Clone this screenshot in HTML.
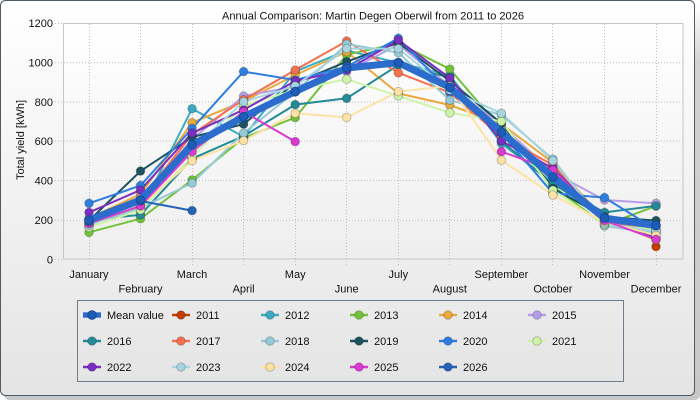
<!DOCTYPE html>
<html>
<head>
<meta charset="utf-8">
<style>
html,body{margin:0;padding:0;background:#ffffff;}
svg{display:block;}
text{font-family:"Liberation Sans",Arial,sans-serif;font-size:11px;fill:#111;}
</style>
</head>
<body>
<svg width="700" height="400" viewBox="0 0 700 400" xmlns="http://www.w3.org/2000/svg">
<defs>
<linearGradient id="panel" x1="0" y1="0" x2="0" y2="1">
<stop offset="0" stop-color="#ffffff"/>
<stop offset="1" stop-color="#e4e4e4"/>
</linearGradient>
<linearGradient id="plot" x1="0" y1="0" x2="0" y2="1">
<stop offset="0" stop-color="#ffffff"/>
<stop offset="1" stop-color="#eeeeee"/>
</linearGradient>
<linearGradient id="shadowv" x1="0" y1="0" x2="0" y2="1">
<stop offset="0" stop-color="#ffffff"/>
<stop offset="0.15" stop-color="#d2d2d2"/>
<stop offset="1" stop-color="#c8c8c8"/>
</linearGradient>
</defs>

<!-- shadow + frame -->
<rect x="4" y="4" width="696" height="396" rx="5" fill="url(#shadowv)"/>
<rect x="0.5" y="0.5" width="694" height="395" rx="5" fill="url(#panel)" stroke="#4d5a67" stroke-width="1"/>

<!-- title -->
<text x="373" y="19.5" text-anchor="middle" textLength="302" lengthAdjust="spacingAndGlyphs">Annual Comparison: Martin Degen Oberwil from 2011 to 2026</text>

<!-- plot area -->
<rect x="63.5" y="23.5" width="619.5" height="235.5" fill="url(#plot)"/>

<!-- grid -->
<g stroke="#bdbdbd" stroke-width="1" stroke-dasharray="1,2" fill="none">
<line x1="55" y1="220.2" x2="683" y2="220.2"/>
<line x1="55" y1="180.5" x2="683" y2="180.5"/>
<line x1="55" y1="141.0" x2="683" y2="141.0"/>
<line x1="55" y1="102.0" x2="683" y2="102.0"/>
<line x1="55" y1="62.7" x2="683" y2="62.7"/>
<line x1="55" y1="23.5" x2="63" y2="23.5"/>
<line x1="55" y1="259.5" x2="63" y2="259.5"/>
<line x1="89.5" y1="24" x2="89.5" y2="267"/>
<line x1="140.5" y1="24" x2="140.5" y2="267"/>
<line x1="192.5" y1="24" x2="192.5" y2="267"/>
<line x1="243.5" y1="24" x2="243.5" y2="267"/>
<line x1="295.5" y1="24" x2="295.5" y2="267"/>
<line x1="346.5" y1="24" x2="346.5" y2="267"/>
<line x1="398.5" y1="24" x2="398.5" y2="267"/>
<line x1="449.5" y1="24" x2="449.5" y2="267"/>
<line x1="501.5" y1="24" x2="501.5" y2="267"/>
<line x1="552.5" y1="24" x2="552.5" y2="267"/>
<line x1="604.5" y1="24" x2="604.5" y2="267"/>
<line x1="656.5" y1="24" x2="656.5" y2="267"/>
</g>
<rect x="63.5" y="23.5" width="619.5" height="235.5" fill="none" stroke="#c6c6c6" stroke-width="1"/>

<!-- y tick labels -->
<g text-anchor="end">
<text x="53" y="27">1200</text>
<text x="53" y="66.5">1000</text>
<text x="53" y="106">800</text>
<text x="53" y="145">600</text>
<text x="53" y="184.5">400</text>
<text x="53" y="224">200</text>
<text x="53" y="263.5">0</text>
</g>
<text transform="translate(24,140) rotate(-90)" text-anchor="middle">Total yield [kWh]</text>

<!-- x labels -->
<g text-anchor="middle">
<text x="89" y="278">January</text>
<text x="140.5" y="292.5">February</text>
<text x="192" y="278">March</text>
<text x="243.6" y="292.5">April</text>
<text x="295.2" y="278">May</text>
<text x="346.7" y="292.5">June</text>
<text x="398.3" y="278">July</text>
<text x="449.8" y="292.5">August</text>
<text x="501.4" y="278">September</text>
<text x="552.9" y="292.5">October</text>
<text x="604.5" y="278">November</text>
<text x="656" y="292.5">December</text>
</g>

<!-- series lines -->
<g fill="none" stroke-width="2" stroke-linejoin="round">
<polyline stroke="#3eaac2" points="89,219.7 140.5,210.8 192.1,108.7 243.6,136.7 295.2,71.6 346.7,50.5 398.3,62.7 449.8,75.1 501.4,143.4 552.9,182.7 604.5,220.6 656,233.2"/>
<polyline stroke="#72c23a" points="89,232.3 140.5,218.7 192.1,179.9 243.6,138 295.2,117.6 346.7,54.7 398.3,43.3 449.8,69 501.4,129.2 552.9,186.2 604.5,225 656,206.1"/>
<polyline stroke="#eaa93e" points="89,218.1 140.5,194.3 192.1,122.7 243.6,101.3 295.2,75.1 346.7,51.7 398.3,93.4 449.8,105 501.4,124.1 552.9,162.6 604.5,219.7 656,239.9"/>
<polyline stroke="#b59ee8" points="89,226.5 140.5,198 192.1,139.4 243.6,96 295.2,86.7 346.7,71.6 398.3,44.6 449.8,85.9 501.4,125.3 552.9,172.5 604.5,200 656,203.3"/>
<polyline stroke="#238a96" points="89,219.7 140.5,214.9 192.1,158.7 243.6,136.1 295.2,104.6 346.7,98.3 398.3,65.1 449.8,77.3 501.4,141 552.9,184.3 604.5,212.4 656,205.9"/>
<polyline stroke="#f5714e" points="89,222.6 140.5,200 192.1,134.3 243.6,99.7 295.2,70 346.7,41.1 398.3,72.8 449.8,92.6 501.4,136.7 552.9,165 604.5,220.1 656,230.1"/>
<polyline stroke="#95cad6" points="89,224.6 140.5,207.9 192.1,183.1 243.6,133.1 295.2,91.8 346.7,44 398.3,52.7 449.8,100.1 501.4,115 552.9,159.1 604.5,226 656,233.4"/>
<polyline stroke="#1d5260" points="89,220.6 140.5,171.1 192.1,137.1 243.6,124.1 295.2,83 346.7,61.7 398.3,42.7 449.8,81 501.4,123.3 552.9,188.4 604.5,216.7 656,220.6"/>
<polyline stroke="#2d7ee0" points="89,203.3 140.5,185.6 192.1,128.4 243.6,71.6 295.2,80 346.7,66.7 398.3,38.3 449.8,91.6 501.4,133.1 552.9,193.3 604.5,197.6 656,229.5"/>
<polyline stroke="#cdf5a8" points="89,227.5 140.5,209.8 192.1,156.7 243.6,105.6 295.2,89.9 346.7,79.2 398.3,96 449.8,112.7 501.4,121.3 552.9,190.2 604.5,224.6 656,229.5"/>
<polyline stroke="#7a2fc0" points="89,212.4 140.5,190 192.1,133.1 243.6,109.9 295.2,81 346.7,70 398.3,40.1 449.8,78.1 501.4,141 552.9,168.3 604.5,219.7 656,238"/>
<polyline stroke="#a6d5df" points="89,225.6 140.5,203.9 192.1,148.9 243.6,101.7 295.2,85.9 346.7,48.6 398.3,48.6 449.8,89.9 501.4,113.3 552.9,160.7 604.5,223.6 656,231.5"/>
<polyline stroke="#fde2a6" points="89,223.6 140.5,205.9 192.1,160.7 243.6,140.6 295.2,113.3 346.7,117.4 398.3,91.6 449.8,85.9 501.4,160.1 552.9,195.1 604.5,221.6 656,235.4"/>
<polyline stroke="#d93bd0" points="89,223.6 140.5,205.9 192.1,151.6 243.6,111.7 295.2,141.6"/>
<polyline stroke="#d93bd0" points="501.4,151.6 552.9,170.1 604.5,220.6 656,239.3"/>
<polyline stroke="#2562b8" points="89,221.6 140.5,201 192.1,210.6"/>
</g>

<!-- series markers -->
<g stroke="rgba(0,0,0,0.22)" stroke-width="1">
<circle cx="656" cy="246.6" r="4.3" fill="#c43c00"/>
<g fill="#3eaac2"><circle cx="89" cy="219.7" r="4.3"/><circle cx="140.5" cy="210.8" r="4.3"/><circle cx="192.1" cy="108.7" r="4.3"/><circle cx="243.6" cy="136.7" r="4.3"/><circle cx="295.2" cy="71.6" r="4.3"/><circle cx="346.7" cy="50.5" r="4.3"/><circle cx="398.3" cy="62.7" r="4.3"/><circle cx="449.8" cy="75.1" r="4.3"/><circle cx="501.4" cy="143.4" r="4.3"/><circle cx="552.9" cy="182.7" r="4.3"/><circle cx="604.5" cy="220.6" r="4.3"/><circle cx="656" cy="233.2" r="4.3"/></g>
<g fill="#72c23a"><circle cx="89" cy="232.3" r="4.3"/><circle cx="140.5" cy="218.7" r="4.3"/><circle cx="192.1" cy="179.9" r="4.3"/><circle cx="243.6" cy="138" r="4.3"/><circle cx="295.2" cy="117.6" r="4.3"/><circle cx="346.7" cy="54.7" r="4.3"/><circle cx="398.3" cy="43.3" r="4.3"/><circle cx="449.8" cy="69" r="4.3"/><circle cx="501.4" cy="129.2" r="4.3"/><circle cx="552.9" cy="186.2" r="4.3"/><circle cx="604.5" cy="225" r="4.3"/><circle cx="656" cy="206.1" r="4.3"/></g>
<g fill="#eaa93e"><circle cx="89" cy="218.1" r="4.3"/><circle cx="140.5" cy="194.3" r="4.3"/><circle cx="192.1" cy="122.7" r="4.3"/><circle cx="243.6" cy="101.3" r="4.3"/><circle cx="295.2" cy="75.1" r="4.3"/><circle cx="346.7" cy="51.7" r="4.3"/><circle cx="398.3" cy="93.4" r="4.3"/><circle cx="449.8" cy="105" r="4.3"/><circle cx="501.4" cy="124.1" r="4.3"/><circle cx="552.9" cy="162.6" r="4.3"/><circle cx="604.5" cy="219.7" r="4.3"/><circle cx="656" cy="239.9" r="4.3"/></g>
<g fill="#b59ee8"><circle cx="89" cy="226.5" r="4.3"/><circle cx="140.5" cy="198" r="4.3"/><circle cx="192.1" cy="139.4" r="4.3"/><circle cx="243.6" cy="96" r="4.3"/><circle cx="295.2" cy="86.7" r="4.3"/><circle cx="346.7" cy="71.6" r="4.3"/><circle cx="398.3" cy="44.6" r="4.3"/><circle cx="449.8" cy="85.9" r="4.3"/><circle cx="501.4" cy="125.3" r="4.3"/><circle cx="552.9" cy="172.5" r="4.3"/><circle cx="604.5" cy="200" r="4.3"/><circle cx="656" cy="203.3" r="4.3"/></g>
<g fill="#238a96"><circle cx="89" cy="219.7" r="4.3"/><circle cx="140.5" cy="214.9" r="4.3"/><circle cx="192.1" cy="158.7" r="4.3"/><circle cx="243.6" cy="136.1" r="4.3"/><circle cx="295.2" cy="104.6" r="4.3"/><circle cx="346.7" cy="98.3" r="4.3"/><circle cx="398.3" cy="65.1" r="4.3"/><circle cx="449.8" cy="77.3" r="4.3"/><circle cx="501.4" cy="141" r="4.3"/><circle cx="552.9" cy="184.3" r="4.3"/><circle cx="604.5" cy="212.4" r="4.3"/><circle cx="656" cy="205.9" r="4.3"/></g>
<g fill="#f5714e"><circle cx="89" cy="222.6" r="4.3"/><circle cx="140.5" cy="200" r="4.3"/><circle cx="192.1" cy="134.3" r="4.3"/><circle cx="243.6" cy="99.7" r="4.3"/><circle cx="295.2" cy="70" r="4.3"/><circle cx="346.7" cy="41.1" r="4.3"/><circle cx="398.3" cy="72.8" r="4.3"/><circle cx="449.8" cy="92.6" r="4.3"/><circle cx="501.4" cy="136.7" r="4.3"/><circle cx="552.9" cy="165" r="4.3"/><circle cx="604.5" cy="220.1" r="4.3"/><circle cx="656" cy="230.1" r="4.3"/></g>
<g fill="#95cad6"><circle cx="89" cy="224.6" r="4.3"/><circle cx="140.5" cy="207.9" r="4.3"/><circle cx="192.1" cy="183.1" r="4.3"/><circle cx="243.6" cy="133.1" r="4.3"/><circle cx="295.2" cy="91.8" r="4.3"/><circle cx="346.7" cy="44" r="4.3"/><circle cx="398.3" cy="52.7" r="4.3"/><circle cx="449.8" cy="100.1" r="4.3"/><circle cx="501.4" cy="115" r="4.3"/><circle cx="552.9" cy="159.1" r="4.3"/><circle cx="604.5" cy="226" r="4.3"/><circle cx="656" cy="233.4" r="4.3"/></g>
<g fill="#1d5260"><circle cx="89" cy="220.6" r="4.3"/><circle cx="140.5" cy="171.1" r="4.3"/><circle cx="192.1" cy="137.1" r="4.3"/><circle cx="243.6" cy="124.1" r="4.3"/><circle cx="295.2" cy="83" r="4.3"/><circle cx="346.7" cy="61.7" r="4.3"/><circle cx="398.3" cy="42.7" r="4.3"/><circle cx="449.8" cy="81" r="4.3"/><circle cx="501.4" cy="123.3" r="4.3"/><circle cx="552.9" cy="188.4" r="4.3"/><circle cx="604.5" cy="216.7" r="4.3"/><circle cx="656" cy="220.6" r="4.3"/></g>
<g fill="#2d7ee0"><circle cx="89" cy="203.3" r="4.3"/><circle cx="140.5" cy="185.6" r="4.3"/><circle cx="192.1" cy="128.4" r="4.3"/><circle cx="243.6" cy="71.6" r="4.3"/><circle cx="295.2" cy="80" r="4.3"/><circle cx="346.7" cy="66.7" r="4.3"/><circle cx="398.3" cy="38.3" r="4.3"/><circle cx="449.8" cy="91.6" r="4.3"/><circle cx="501.4" cy="133.1" r="4.3"/><circle cx="552.9" cy="193.3" r="4.3"/><circle cx="604.5" cy="197.6" r="4.3"/><circle cx="656" cy="229.5" r="4.3"/></g>
<g fill="#cdf5a8"><circle cx="89" cy="227.5" r="4.3"/><circle cx="140.5" cy="209.8" r="4.3"/><circle cx="192.1" cy="156.7" r="4.3"/><circle cx="243.6" cy="105.6" r="4.3"/><circle cx="295.2" cy="89.9" r="4.3"/><circle cx="346.7" cy="79.2" r="4.3"/><circle cx="398.3" cy="96" r="4.3"/><circle cx="449.8" cy="112.7" r="4.3"/><circle cx="501.4" cy="121.3" r="4.3"/><circle cx="552.9" cy="190.2" r="4.3"/><circle cx="604.5" cy="224.6" r="4.3"/><circle cx="656" cy="229.5" r="4.3"/></g>
<g fill="#7a2fc0"><circle cx="89" cy="212.4" r="4.3"/><circle cx="140.5" cy="190" r="4.3"/><circle cx="192.1" cy="133.1" r="4.3"/><circle cx="243.6" cy="109.9" r="4.3"/><circle cx="295.2" cy="81" r="4.3"/><circle cx="346.7" cy="70" r="4.3"/><circle cx="398.3" cy="40.1" r="4.3"/><circle cx="449.8" cy="78.1" r="4.3"/><circle cx="501.4" cy="141" r="4.3"/><circle cx="552.9" cy="168.3" r="4.3"/><circle cx="604.5" cy="219.7" r="4.3"/><circle cx="656" cy="238" r="4.3"/></g>
<g fill="#a6d5df"><circle cx="89" cy="225.6" r="4.3"/><circle cx="140.5" cy="203.9" r="4.3"/><circle cx="192.1" cy="148.9" r="4.3"/><circle cx="243.6" cy="101.7" r="4.3"/><circle cx="295.2" cy="85.9" r="4.3"/><circle cx="346.7" cy="48.6" r="4.3"/><circle cx="398.3" cy="48.6" r="4.3"/><circle cx="449.8" cy="89.9" r="4.3"/><circle cx="501.4" cy="113.3" r="4.3"/><circle cx="552.9" cy="160.7" r="4.3"/><circle cx="604.5" cy="223.6" r="4.3"/><circle cx="656" cy="231.5" r="4.3"/></g>
<g fill="#fde2a6"><circle cx="89" cy="223.6" r="4.3"/><circle cx="140.5" cy="205.9" r="4.3"/><circle cx="192.1" cy="160.7" r="4.3"/><circle cx="243.6" cy="140.6" r="4.3"/><circle cx="295.2" cy="113.3" r="4.3"/><circle cx="346.7" cy="117.4" r="4.3"/><circle cx="398.3" cy="91.6" r="4.3"/><circle cx="449.8" cy="85.9" r="4.3"/><circle cx="501.4" cy="160.1" r="4.3"/><circle cx="552.9" cy="195.1" r="4.3"/><circle cx="604.5" cy="221.6" r="4.3"/><circle cx="656" cy="235.4" r="4.3"/></g>
<g fill="#d93bd0"><circle cx="89" cy="223.6" r="4.3"/><circle cx="140.5" cy="205.9" r="4.3"/><circle cx="192.1" cy="151.6" r="4.3"/><circle cx="243.6" cy="111.7" r="4.3"/><circle cx="295.2" cy="141.6" r="4.3"/><circle cx="501.4" cy="151.6" r="4.3"/><circle cx="552.9" cy="170.1" r="4.3"/><circle cx="604.5" cy="220.6" r="4.3"/><circle cx="656" cy="239.3" r="4.3"/></g>
<g fill="#2562b8"><circle cx="89" cy="221.6" r="4.3"/><circle cx="140.5" cy="201" r="4.3"/><circle cx="192.1" cy="210.6" r="4.3"/></g>
</g>

<!-- mean -->
<polyline fill="none" stroke="#2b6ccc" stroke-width="7" stroke-linejoin="round" stroke-linecap="round" points="89,220.1 140.5,200 192.1,144.9 243.6,116.8 295.2,91.6 346.7,68 398.3,62.7 449.8,87.3 501.4,132.1 552.9,177 604.5,218.1 656,225.6"/>
<g fill="#1f5cb8" stroke="#174a96" stroke-width="1">
<circle cx="89" cy="220.1" r="4.3"/><circle cx="140.5" cy="200" r="4.3"/><circle cx="192.1" cy="144.9" r="4.3"/><circle cx="243.6" cy="116.8" r="4.3"/><circle cx="295.2" cy="91.6" r="4.3"/><circle cx="346.7" cy="68" r="4.3"/><circle cx="398.3" cy="62.7" r="4.3"/><circle cx="449.8" cy="87.3" r="4.3"/><circle cx="501.4" cy="132.1" r="4.3"/><circle cx="552.9" cy="177" r="4.3"/><circle cx="604.5" cy="218.1" r="4.3"/><circle cx="656" cy="225.6" r="4.3"/>
</g>

<!-- legend -->
<rect x="77.5" y="300.5" width="546" height="81" fill="none" stroke="#6f7c8a" stroke-width="1"/>
<g stroke-width="2.5">
<rect x="83" y="312.3" width="18" height="5.4" fill="#2b6ccc"/>
<circle cx="92" cy="315" r="4.3" fill="#1f5cb8" stroke="#174a96" stroke-width="1"/>
<line x1="172" y1="315" x2="190" y2="315" stroke="#c43c00"/><circle cx="181" cy="315" r="4.3" fill="#c43c00" stroke="rgba(0,0,0,0.22)" stroke-width="1"/>
<line x1="261" y1="315" x2="279" y2="315" stroke="#3eaac2"/><circle cx="270" cy="315" r="4.3" fill="#3eaac2" stroke="rgba(0,0,0,0.22)" stroke-width="1"/>
<line x1="350" y1="315" x2="368" y2="315" stroke="#72c23a"/><circle cx="359" cy="315" r="4.3" fill="#72c23a" stroke="rgba(0,0,0,0.22)" stroke-width="1"/>
<line x1="439" y1="315" x2="457" y2="315" stroke="#eaa93e"/><circle cx="448" cy="315" r="4.3" fill="#eaa93e" stroke="rgba(0,0,0,0.22)" stroke-width="1"/>
<line x1="528" y1="315" x2="546" y2="315" stroke="#b59ee8"/><circle cx="537" cy="315" r="4.3" fill="#b59ee8" stroke="rgba(0,0,0,0.22)" stroke-width="1"/>
<line x1="83" y1="341" x2="101" y2="341" stroke="#238a96"/><circle cx="92" cy="341" r="4.3" fill="#238a96" stroke="rgba(0,0,0,0.22)" stroke-width="1"/>
<line x1="172" y1="341" x2="190" y2="341" stroke="#f5714e"/><circle cx="181" cy="341" r="4.3" fill="#f5714e" stroke="rgba(0,0,0,0.22)" stroke-width="1"/>
<line x1="261" y1="341" x2="279" y2="341" stroke="#95cad6"/><circle cx="270" cy="341" r="4.3" fill="#95cad6" stroke="rgba(0,0,0,0.22)" stroke-width="1"/>
<line x1="350" y1="341" x2="368" y2="341" stroke="#1d5260"/><circle cx="359" cy="341" r="4.3" fill="#1d5260" stroke="rgba(0,0,0,0.22)" stroke-width="1"/>
<line x1="439" y1="341" x2="457" y2="341" stroke="#2d7ee0"/><circle cx="448" cy="341" r="4.3" fill="#2d7ee0" stroke="rgba(0,0,0,0.22)" stroke-width="1"/>
<line x1="528" y1="341" x2="546" y2="341" stroke="#cdf5a8"/><circle cx="537" cy="341" r="4.3" fill="#cdf5a8" stroke="rgba(0,0,0,0.22)" stroke-width="1"/>
<line x1="83" y1="367" x2="101" y2="367" stroke="#7a2fc0"/><circle cx="92" cy="367" r="4.3" fill="#7a2fc0" stroke="rgba(0,0,0,0.22)" stroke-width="1"/>
<line x1="172" y1="367" x2="190" y2="367" stroke="#a6d5df"/><circle cx="181" cy="367" r="4.3" fill="#a6d5df" stroke="rgba(0,0,0,0.22)" stroke-width="1"/>
<line x1="261" y1="367" x2="279" y2="367" stroke="#fde2a6"/><circle cx="270" cy="367" r="4.3" fill="#fde2a6" stroke="rgba(0,0,0,0.22)" stroke-width="1"/>
<line x1="350" y1="367" x2="368" y2="367" stroke="#d93bd0"/><circle cx="359" cy="367" r="4.3" fill="#d93bd0" stroke="rgba(0,0,0,0.22)" stroke-width="1"/>
<line x1="439" y1="367" x2="457" y2="367" stroke="#2562b8"/><circle cx="448" cy="367" r="4.3" fill="#2562b8" stroke="rgba(0,0,0,0.22)" stroke-width="1"/>
</g>
<g>
<text x="107" y="319">Mean value</text>
<text x="196" y="319">2011</text>
<text x="285" y="319">2012</text>
<text x="374" y="319">2013</text>
<text x="463" y="319">2014</text>
<text x="552" y="319">2015</text>
<text x="107" y="345">2016</text>
<text x="196" y="345">2017</text>
<text x="285" y="345">2018</text>
<text x="374" y="345">2019</text>
<text x="463" y="345">2020</text>
<text x="552" y="345">2021</text>
<text x="107" y="371">2022</text>
<text x="196" y="371">2023</text>
<text x="285" y="371">2024</text>
<text x="374" y="371">2025</text>
<text x="463" y="371">2026</text>
</g>
</svg>
</body>
</html>
